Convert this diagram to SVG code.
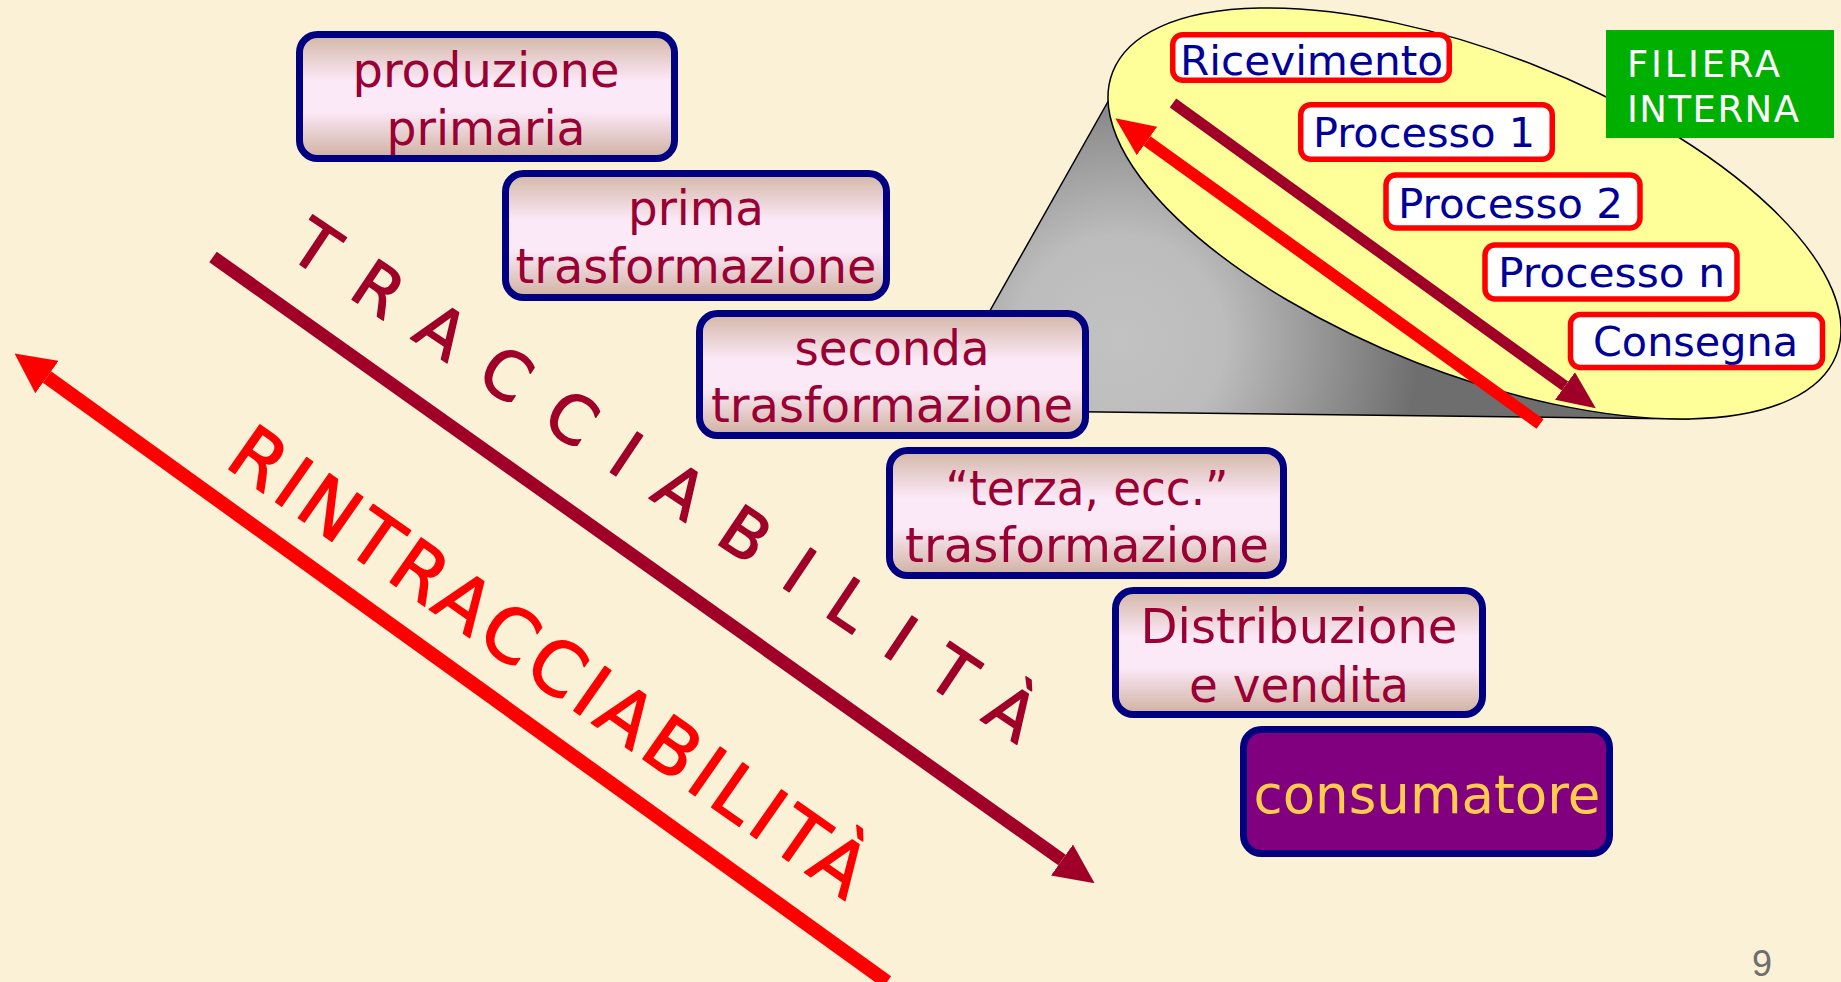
<svg xmlns="http://www.w3.org/2000/svg" width="1841" height="982" viewBox="0 0 1841 982">
<style>
.box{stroke:#000080;stroke-width:7;fill:url(#boxGrad)}
.bt{font-family:"DejaVu Sans","Liberation Sans",sans-serif;font-size:48px;fill:#990033;text-anchor:middle}
.lbl{fill:#fff;stroke:#ff0000;stroke-width:5.5}
.lt{font-family:"DejaVu Sans","Liberation Sans",sans-serif;font-size:41px;fill:#000099}
.ft{font-family:"DejaVu Sans","Liberation Sans",sans-serif;font-size:37px;fill:#ffffff}
.big{font-family:"Comic Sans MS","DejaVu Sans",sans-serif}
</style>
<defs>
<linearGradient id="boxGrad" x1="0" y1="0" x2="0" y2="1">
<stop offset="0" stop-color="#d3b6a6"/>
<stop offset="0.38" stop-color="#fce9f8"/>
<stop offset="0.62" stop-color="#fce9f8"/>
<stop offset="1" stop-color="#cfb0a0"/>
</linearGradient>
<radialGradient id="cone" gradientUnits="userSpaceOnUse" cx="1120" cy="340" r="300">
<stop offset="0" stop-color="#c2c2c2"/>
<stop offset="0.35" stop-color="#bcbcbc"/>
<stop offset="1" stop-color="#6e6e6e"/>
</radialGradient>
<marker id="hDark" markerUnits="userSpaceOnUse" viewBox="0 0 40 38" markerWidth="40" markerHeight="38" refX="0" refY="19" orient="auto"><path d="M0,0 L40,19 L0,38 z" fill="#a00028"/></marker>
<marker id="hRed" markerUnits="userSpaceOnUse" viewBox="0 0 40 40" markerWidth="40" markerHeight="40" refX="0" refY="20" orient="auto"><path d="M0,0 L40,20 L0,40 z" fill="#ff0000"/></marker>
<marker id="hDarkS" markerUnits="userSpaceOnUse" viewBox="0 0 38 34" markerWidth="38" markerHeight="34" refX="0" refY="17" orient="auto"><path d="M0,0 L38,17 L0,34 z" fill="#a00028"/></marker>
<marker id="hRedS" markerUnits="userSpaceOnUse" viewBox="0 0 39 35" markerWidth="39" markerHeight="35" refX="0" refY="17.5" orient="auto"><path d="M0,0 L39,17.5 L0,35 z" fill="#ff0000"/></marker>
</defs>
<rect x="0" y="0" width="1841" height="982" fill="#fbf1d7"/>

<g id="filiera-interna-zoom">
<path d="M1110,98 L934,410 L1690,419 Z" fill="url(#cone)" stroke="#000" stroke-width="1.5"/>
<ellipse cx="1474.5" cy="213.5" rx="388.5" ry="160" transform="rotate(21.35 1474.5 213.5)" fill="#ffff99" stroke="#000" stroke-width="1.5"/>
</g>

<g id="connectors">
<line x1="1173" y1="103" x2="1565" y2="386" stroke="#a00028" stroke-width="11" marker-end="url(#hDarkS)"/>
<line x1="1540" y1="424" x2="1147" y2="141" stroke="#ff0000" stroke-width="12" marker-end="url(#hRedS)"/>
<line x1="213" y1="257" x2="1062" y2="860" stroke="#a00028" stroke-width="13" marker-end="url(#hDark)"/>
<line x1="887" y1="982" x2="47" y2="377" stroke="#ff0000" stroke-width="14" marker-end="url(#hRed)"/>
</g>

<g id="ricevimento"><rect class="lbl" x="1172.75" y="34.75" width="276.5" height="45.5" rx="10"/><text class="lt" x="1180" y="75" textLength="263" lengthAdjust="spacingAndGlyphs">Ricevimento</text></g>
<g id="processo-1"><rect class="lbl" x="1300.75" y="104.75" width="251.5" height="54.5" rx="10"/><text class="lt" x="1313" y="147" textLength="222" lengthAdjust="spacingAndGlyphs">Processo 1</text></g>
<g id="processo-2"><rect class="lbl" x="1386" y="175" width="254" height="53" rx="10"/><text class="lt" x="1398" y="218" textLength="225" lengthAdjust="spacingAndGlyphs">Processo 2</text></g>
<g id="processo-n"><rect class="lbl" x="1485" y="245" width="252" height="54" rx="10"/><text class="lt" x="1498" y="287" textLength="227" lengthAdjust="spacingAndGlyphs">Processo n</text></g>
<g id="consegna"><rect class="lbl" x="1570.5" y="314.5" width="252" height="53" rx="10"/><text class="lt" x="1593" y="356" textLength="205" lengthAdjust="spacingAndGlyphs">Consegna</text></g>

<g id="filiera-label"><rect x="1606" y="30" width="228" height="108" fill="#00b000"/>
<text class="ft" x="1627" y="77" textLength="153" lengthAdjust="spacing">FILIERA</text>
<text class="ft" x="1627" y="122" textLength="172" lengthAdjust="spacing">INTERNA</text></g>

<g id="produzione-primaria"><rect class="box" x="299.5" y="34.5" width="375" height="124" rx="18"/>
<text class="bt" x="486" y="87" textLength="267" lengthAdjust="spacingAndGlyphs">produzione</text>
<text class="bt" x="486" y="145" textLength="199" lengthAdjust="spacingAndGlyphs">primaria</text></g>

<g id="prima-trasformazione"><rect class="box" x="505.5" y="173.5" width="381" height="124" rx="18"/>
<text class="bt" x="696" y="225" textLength="136" lengthAdjust="spacingAndGlyphs">prima</text>
<text class="bt" x="696" y="283" textLength="361" lengthAdjust="spacingAndGlyphs">trasformazione</text></g>

<g id="seconda-trasformazione"><rect class="box" x="699.5" y="313.5" width="386" height="122" rx="18"/>
<text class="bt" x="892" y="365" textLength="195" lengthAdjust="spacingAndGlyphs">seconda</text>
<text class="bt" x="892" y="422" textLength="362" lengthAdjust="spacingAndGlyphs">trasformazione</text></g>

<g id="terza-trasformazione"><rect class="box" x="889.5" y="450.5" width="394" height="125" rx="18"/>
<text class="bt" x="1087" y="505" textLength="283" lengthAdjust="spacingAndGlyphs">“terza, ecc.”</text>
<text class="bt" x="1087" y="562" textLength="364" lengthAdjust="spacingAndGlyphs">trasformazione</text></g>

<g id="distribuzione-vendita"><rect class="box" x="1115.5" y="590.5" width="367" height="124" rx="18"/>
<text class="bt" x="1299" y="643" textLength="317" lengthAdjust="spacingAndGlyphs">Distribuzione</text>
<text class="bt" x="1299" y="702" textLength="220" lengthAdjust="spacingAndGlyphs">e vendita</text></g>

<g id="consumatore"><rect x="1243.5" y="729.5" width="366" height="124" rx="18" fill="#800080" stroke="#000080" stroke-width="7"/>
<text class="bt" x="1427" y="813" textLength="347" lengthAdjust="spacingAndGlyphs" style="fill:#ffcc4d;font-size:53px">consumatore</text></g>

<g id="tracciabilita"><text class="big" transform="translate(286,255) rotate(33.8)" x="0" y="0" font-size="66" fill="#a00028" stroke="#a00028" stroke-width="1.5" stroke-linejoin="round" textLength="880" lengthAdjust="spacing">TRACCIABILITÀ</text></g>
<g id="rintracciabilita"><text class="big" transform="translate(223,465) rotate(35)" x="0" y="0" font-size="74" fill="#ff0000" stroke="#ff0000" stroke-width="1.5" stroke-linejoin="round" textLength="760" lengthAdjust="spacing">RINTRACCIABILITÀ</text></g>

<text x="1762" y="976" font-family="Liberation Sans, sans-serif" font-size="36" fill="#6e6e6e" text-anchor="middle">9</text>
</svg>
